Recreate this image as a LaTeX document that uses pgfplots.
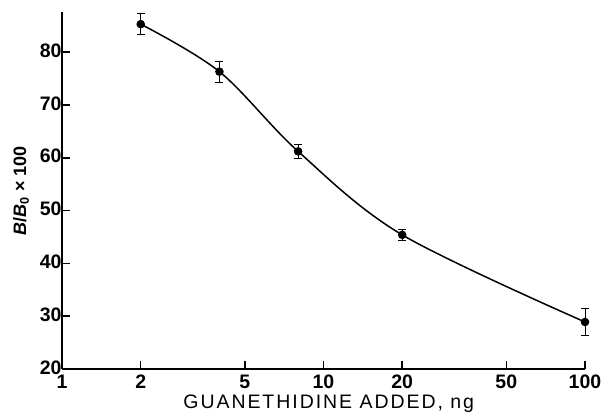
\documentclass[border=0pt]{standalone}
\usepackage{fontspec}
\setmainfont{Liberation Sans}
\newfontfamily\widesans[LetterSpace=10]{Liberation Sans}
\usepackage{pgfplots}
\pgfplotsset{compat=1.18}

\begin{document}
\begin{tikzpicture}
  \begin{axis}[
    scale only axis,
    width=523pt, height=357pt,
    xmode=log, log basis x=10,
    xmin=1, xmax=100, ymin=20, ymax=87.6,
    clip=false,
    axis x line=bottom, axis y line=left,
    axis line style={-, line width=1.8pt},
    xtick={1,2,5,10,20,50,100},
    xticklabels={1,2,5,10,20,50,100},
    minor xtick={},
    ytick={20,30,40,50,60,70,80},
    tick align=inside,
    major tick length=8pt,
    tick style={line width=1.5pt, black},
    /pgf/number format/assume math mode=true,
    ticklabel style={font=\fontsize{19.5}{21}\selectfont\bfseries},
    xticklabel style={yshift=-2.5pt},
    yticklabel style={xshift=3pt, yshift=1.5pt},
    xlabel={GUANETHIDINE ADDED, ng},
    xlabel style={font=\fontsize{19.5}{21}\selectfont\widesans, at={(axis description cs:0.51,0)}, anchor=base, yshift=-40pt},
    ylabel={\textbf{\textit{B}/\textit{B}\textsubscript{0} × 100}},
    ylabel style={font=\fontsize{18}{20}\selectfont, at={(axis description cs:0,0.5)}, anchor=center, yshift=41pt},
  ]
    \addplot[black, line width=1.5pt, smooth, tension=0.55,
      mark=*, mark size=3.5pt, mark options={fill=black},
      error bars/.cd, y dir=both, y explicit,
      error bar style={line width=1pt},
      error mark options={rotate=90, mark size=4pt, line width=1pt}]
      coordinates {
        (2, 85.3) +- (0, 2.0)
        (4, 76.3) +- (0, 2.0)
        (8, 61.2) +- (0, 1.3)
        (20, 45.4) +- (0, 1.1)
        (100, 28.9) +- (0, 2.5)
      };
  \end{axis}
  \pgfresetboundingbox
  \path[use as bounding box] ([shift={(-62pt,-43pt)}]current axis.south west) rectangle ([shift={(18pt,12pt)}]current axis.north east);
\end{tikzpicture}
\end{document}
